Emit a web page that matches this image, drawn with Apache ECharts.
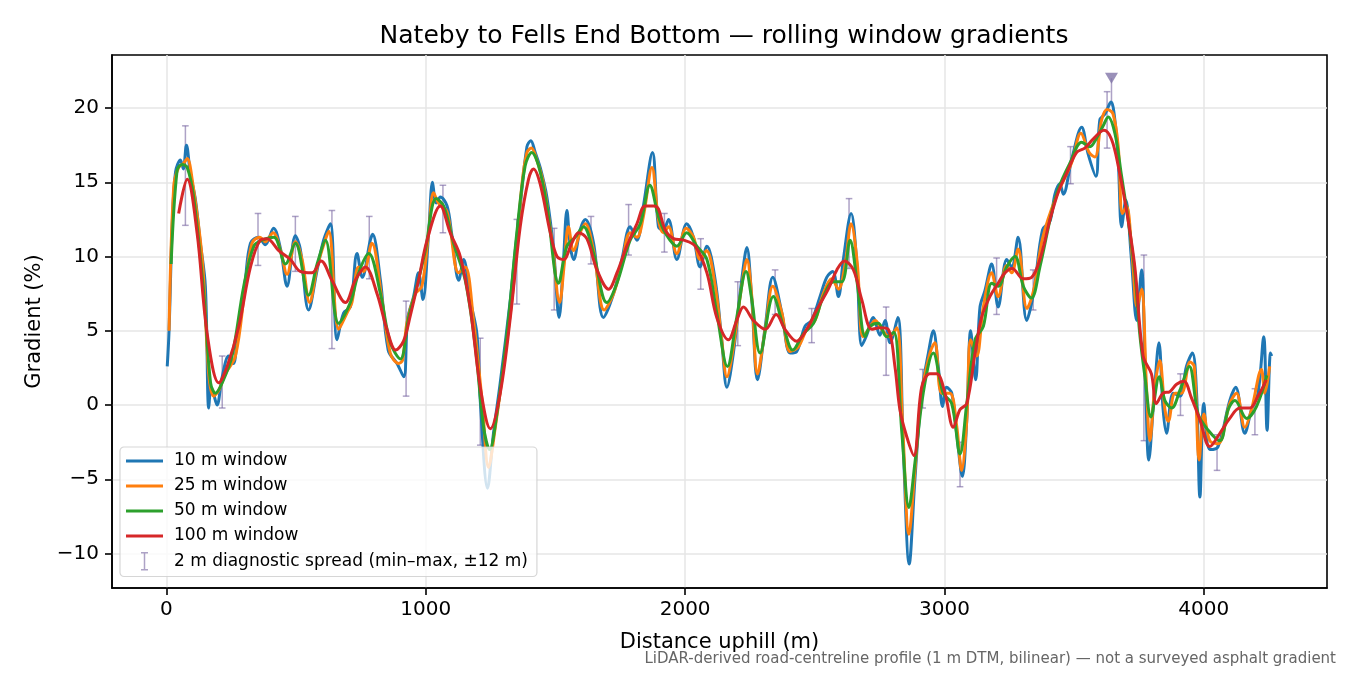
<!DOCTYPE html>
<html>
<head>
<meta charset="utf-8">
<title>Nateby to Fells End Bottom</title>
<script src="https://cdn.jsdelivr.net/npm/echarts@6/dist/echarts.min.js"></script>
<style>
  html, body { margin: 0; padding: 0; background: #fff; }
  #chart { width: 1350px; height: 675px; }
</style>
</head>
<body>
<div id="chart"></div>
<script>
// distances (m) and gradients (%), one pair of arrays per window
const dist10 = [3, 10, 22, 35, 54, 65, 77, 92, 112, 130, 150, 163, 172, 181, 195, 215, 240, 258, 270, 304, 324, 355, 381, 413, 440, 465, 497, 516, 548, 581, 606, 632, 658, 683, 709, 735, 755, 786, 795, 825, 855, 889, 915, 930, 953, 972, 989, 1011, 1026, 1040, 1056, 1082, 1100, 1127, 1146, 1171, 1197, 1210, 1238, 1261, 1287, 1326, 1345, 1364, 1390, 1405, 1422, 1441, 1467, 1493, 1514, 1531, 1544, 1557, 1570, 1595, 1615, 1647, 1685, 1724, 1756, 1788, 1814, 1839, 1874, 1897, 1916, 1936, 1968, 2006, 2032, 2058, 2084, 2116, 2141, 2161, 2186, 2218, 2238, 2257, 2279, 2309, 2338, 2373, 2405, 2430, 2462, 2488, 2520, 2546, 2569, 2591, 2610, 2640, 2662, 2681, 2700, 2726, 2751, 2771, 2790, 2820, 2841, 2864, 2886, 2912, 2938, 2957, 2976, 2993, 3008, 3028, 3047, 3069, 3086, 3101, 3120, 3137, 3156, 3182, 3207, 3240, 3259, 3284, 3317, 3345, 3378, 3407, 3426, 3445, 3458, 3490, 3529, 3554, 3584, 3599, 3619, 3642, 3657, 3670, 3683, 3699, 3721, 3741, 3760, 3773, 3788, 3809, 3827, 3843, 3856, 3882, 3908, 3933, 3956, 3972, 3985, 4000, 4023, 4055, 4100, 4123, 4158, 4184, 4209, 4231, 4244, 4257, 4262];
const grad10 = [2.6, 5.0, 12.0, 15.7, 16.5, 15.9, 17.5, 15.6, 13.8, 11.0, 8.0, -0.2, 1.2, 0.8, 0.0, 1.9, 3.3, 2.8, 3.9, 8.4, 10.9, 11.3, 10.8, 11.9, 10.5, 8.0, 11.4, 10.5, 6.4, 9.1, 11.1, 12.2, 4.4, 6.2, 6.6, 10.2, 8.6, 11.1, 11.5, 8.4, 3.7, 2.8, 1.9, 5.8, 7.3, 8.9, 7.1, 11.6, 15.0, 13.6, 14.0, 13.4, 11.5, 8.4, 9.8, 7.1, 4.8, 0.3, -5.6, -1.9, 1.5, 7.1, 10.4, 13.4, 17.4, 17.8, 17.0, 16.0, 14.0, 10.4, 5.9, 9.8, 13.1, 10.7, 9.8, 11.8, 12.5, 10.9, 5.9, 7.5, 9.8, 12.0, 11.1, 13.4, 17.0, 12.0, 11.8, 12.5, 9.8, 12.2, 11.3, 9.3, 10.7, 8.4, 4.4, 1.2, 3.5, 8.4, 10.6, 7.1, 1.7, 5.3, 8.6, 6.2, 3.5, 3.6, 5.3, 5.7, 7.3, 8.6, 9.0, 7.3, 9.8, 12.9, 9.5, 4.0, 4.7, 5.9, 4.7, 5.7, 4.2, 5.9, -2.8, -10.7, -5.0, 0.8, 3.5, 5.0, 2.6, -0.1, 1.2, 0.8, -1.9, -4.8, -1.0, 5.0, 1.7, 6.6, 7.7, 9.5, 6.6, 9.8, 9.3, 11.3, 5.7, 7.7, 11.8, 12.4, 14.2, 14.9, 14.2, 16.5, 18.7, 16.9, 15.4, 19.2, 19.6, 20.4, 19.2, 16.5, 12.0, 13.8, 9.8, 5.7, 9.1, 3.0, -3.7, 0.8, 4.2, -0.3, -1.9, 0.8, 0.6, 2.6, 3.5, 0.8, -6.2, 0.1, -3.0, -2.8, 0.3, 1.2, -1.9, -0.3, 0.8, 4.6, -1.7, 3.5, 3.3];

const dist25 = [10, 28, 47, 67, 80, 99, 138, 163, 182, 202, 227, 266, 304, 330, 360, 381, 411, 440, 465, 497, 523, 552, 581, 610, 626, 664, 696, 715, 741, 760, 792, 831, 863, 895, 910, 927, 960, 985, 1011, 1030, 1049, 1082, 1127, 1152, 1184, 1217, 1242, 1268, 1300, 1339, 1371, 1390, 1407, 1428, 1454, 1486, 1516, 1534, 1550, 1570, 1595, 1615, 1647, 1688, 1724, 1756, 1788, 1814, 1839, 1872, 1897, 1916, 1936, 1968, 2004, 2032, 2058, 2082, 2116, 2141, 2161, 2186, 2218, 2238, 2257, 2279, 2309, 2338, 2373, 2405, 2436, 2469, 2501, 2533, 2565, 2591, 2617, 2640, 2664, 2685, 2707, 2733, 2758, 2788, 2816, 2839, 2863, 2886, 2912, 2944, 2963, 2989, 3021, 3047, 3066, 3086, 3101, 3124, 3150, 3182, 3207, 3240, 3259, 3284, 3318, 3345, 3378, 3430, 3490, 3526, 3558, 3580, 3606, 3627, 3650, 3670, 3686, 3702, 3724, 3743, 3760, 3779, 3792, 3811, 3830, 3850, 3863, 3889, 3914, 3947, 3963, 3982, 4000, 4023, 4055, 4100, 4126, 4158, 4184, 4222, 4235, 4254];
const grad25 = [5.0, 14.7, 16.0, 16.3, 16.6, 15.2, 9.8, 2.1, 0.6, 1.0, 2.1, 3.3, 8.0, 10.9, 11.3, 11.0, 11.6, 10.4, 8.8, 11.0, 9.8, 6.9, 9.3, 11.0, 11.7, 5.1, 6.2, 6.9, 9.3, 9.0, 10.9, 7.1, 3.5, 2.8, 3.0, 5.5, 7.5, 8.0, 11.6, 14.3, 13.6, 13.0, 8.9, 9.3, 5.7, 0.3, -4.2, -1.5, 2.6, 8.2, 14.9, 17.0, 17.3, 16.5, 14.9, 11.1, 6.9, 9.5, 12.0, 10.4, 11.6, 12.2, 10.4, 6.4, 7.5, 9.5, 11.6, 11.3, 12.7, 16.0, 12.5, 11.6, 12.0, 10.2, 11.9, 11.3, 9.8, 10.4, 8.0, 4.4, 1.9, 3.9, 8.0, 9.8, 7.3, 2.1, 5.1, 8.0, 6.2, 3.6, 3.9, 5.1, 5.7, 7.5, 8.5, 7.8, 9.5, 12.2, 9.5, 4.6, 5.1, 5.7, 5.1, 4.6, 5.2, -1.5, -8.7, -4.4, 0.8, 3.5, 4.2, 0.8, 0.8, -1.4, -4.4, -1.0, 4.4, 3.3, 6.6, 8.9, 7.3, 9.4, 8.9, 10.5, 6.5, 7.8, 11.2, 14.0, 16.3, 18.3, 17.0, 16.7, 19.2, 19.9, 19.6, 17.4, 12.9, 13.4, 10.0, 6.6, 7.8, 1.2, -2.4, 1.2, 3.0, -0.3, -1.1, 0.8, 0.8, 2.9, 2.6, -3.7, -0.6, -2.4, -2.6, 0.1, 0.8, -1.5, -0.3, 2.4, 0.8, 2.6];

const dist50 = [18, 41, 60, 80, 105, 144, 170, 189, 215, 253, 298, 337, 369, 414, 459, 497, 548, 581, 613, 664, 709, 741, 780, 825, 863, 902, 934, 966, 998, 1040, 1069, 1107, 1152, 1191, 1223, 1246, 1274, 1313, 1351, 1383, 1409, 1435, 1467, 1512, 1544, 1576, 1608, 1647, 1698, 1737, 1788, 1827, 1864, 1897, 1923, 1968, 2006, 2045, 2084, 2122, 2163, 2199, 2235, 2257, 2289, 2340, 2379, 2415, 2456, 2495, 2533, 2572, 2604, 2636, 2662, 2694, 2713, 2745, 2777, 2805, 2835, 2863, 2886, 2918, 2957, 2995, 3028, 3060, 3086, 3118, 3150, 3182, 3207, 3240, 3272, 3304, 3335, 3368, 3410, 3440, 3484, 3529, 3561, 3584, 3612, 3631, 3657, 3683, 3708, 3734, 3753, 3773, 3796, 3828, 3850, 3876, 3908, 3944, 3978, 4017, 4062, 4094, 4120, 4165, 4203, 4243];
const grad50 = [9.5, 15.8, 16.2, 16.0, 14.0, 7.5, 1.5, 0.8, 1.5, 3.3, 8.0, 10.7, 11.1, 11.3, 9.5, 10.9, 7.4, 9.5, 11.1, 5.5, 6.9, 8.9, 10.2, 7.5, 4.2, 3.1, 5.9, 8.0, 10.4, 13.9, 13.4, 10.9, 8.4, 3.9, -1.5, -3.0, -0.6, 4.8, 11.6, 16.1, 17.0, 16.1, 13.4, 8.2, 10.7, 11.3, 12.0, 10.2, 6.9, 8.2, 11.1, 12.2, 14.8, 12.7, 11.6, 10.7, 11.6, 10.7, 9.8, 6.2, 2.6, 5.9, 9.0, 7.1, 3.5, 7.3, 5.3, 3.7, 4.8, 5.5, 7.3, 8.3, 8.3, 11.1, 8.4, 4.6, 5.3, 5.5, 4.6, 4.9, -1.7, -6.9, -3.9, 0.8, 3.5, 0.8, 0.1, -3.3, 0.1, 4.4, 5.3, 8.2, 8.0, 9.3, 10.0, 8.0, 7.2, 9.3, 12.7, 14.6, 16.3, 17.7, 17.4, 17.9, 18.8, 19.4, 18.3, 15.4, 12.5, 8.9, 4.8, 1.9, -0.8, 1.9, 0.3, -0.2, 1.0, 2.6, -0.6, -1.7, -2.4, -0.3, 0.3, -0.9, -0.1, 2.0];

const dist100 = [47, 80, 118, 157, 202, 234, 279, 324, 362, 388, 433, 478, 516, 561, 596, 638, 690, 728, 767, 812, 850, 884, 914, 940, 972, 1005, 1056, 1094, 1133, 1171, 1210, 1249, 1287, 1326, 1364, 1396, 1415, 1441, 1480, 1506, 1531, 1563, 1589, 1621, 1660, 1705, 1737, 1775, 1814, 1846, 1880, 1897, 1923, 1955, 1994, 2039, 2084, 2122, 2167, 2199, 2225, 2263, 2309, 2351, 2385, 2430, 2469, 2507, 2552, 2585, 2614, 2649, 2681, 2720, 2751, 2783, 2809, 2828, 2854, 2882, 2912, 2944, 2970, 3002, 3034, 3060, 3086, 3118, 3143, 3175, 3207, 3233, 3261, 3304, 3336, 3368, 3407, 3440, 3471, 3509, 3541, 3573, 3615, 3644, 3670, 3702, 3734, 3766, 3798, 3817, 3843, 3869, 3895, 3923, 3952, 3985, 4023, 4062, 4100, 4139, 4177, 4209, 4241];
const grad100 = [12.9, 15.2, 11.6, 4.8, 1.5, 2.6, 5.3, 9.3, 11.1, 11.2, 10.4, 9.8, 9.0, 8.9, 9.7, 8.4, 6.9, 8.4, 9.3, 7.5, 5.1, 3.7, 4.3, 6.0, 8.4, 11.1, 13.4, 11.6, 10.0, 6.6, 1.2, -1.6, 0.8, 5.9, 12.0, 15.2, 15.9, 14.9, 11.6, 10.0, 9.8, 10.9, 11.6, 11.2, 9.1, 7.8, 8.9, 10.7, 12.2, 13.4, 13.4, 13.2, 11.8, 11.2, 11.1, 10.7, 8.9, 5.9, 4.4, 5.7, 6.6, 5.7, 5.1, 6.1, 5.1, 4.3, 5.1, 6.4, 7.8, 9.1, 9.7, 9.1, 7.1, 5.1, 5.2, 5.1, 2.6, -0.3, -2.1, -3.4, 1.2, 2.1, 2.1, 0.8, -1.5, -0.3, 0.1, 3.5, 5.9, 7.3, 8.2, 8.9, 9.2, 8.5, 8.6, 9.8, 12.5, 14.4, 15.6, 17.0, 17.3, 17.9, 18.5, 17.9, 16.1, 13.1, 9.3, 3.3, 2.1, 0.1, 0.8, 0.9, 1.4, 1.6, 0.5, -1.0, -2.8, -1.9, -0.9, -0.2, -0.2, 0.6, 1.7];

// 2 m diagnostic spread (min–max over ±12 m)
const spreadDist = [73, 215, 353, 497, 638, 782, 924, 1066, 1210, 1351, 1495, 1637, 1782, 1920, 2060, 2203, 2347, 2488, 2632, 2775, 2916, 3060, 3201, 3342, 3486, 3627, 3769, 3910, 4051, 4197];
const spreadMin = [12.1, -0.2, 9.4, 9.0, 3.8, 8.5, 0.6, 11.6, -2.7, 6.8, 6.4, 9.5, 10.1, 10.3, 7.8, 4.0, 6.1, 4.2, 9.2, 2.0, -0.2, -5.5, 6.1, 6.4, 14.9, 17.3, -2.4, -0.7, -4.4, -2.0];
const spreadMax = [18.8, 3.3, 12.9, 12.7, 13.1, 12.7, 7.0, 14.8, 4.5, 12.5, 11.9, 12.7, 13.5, 12.9, 11.2, 8.3, 9.1, 6.5, 13.9, 6.6, 2.4, -2.5, 9.9, 9.1, 17.4, 21.1, 10.1, 2.1, -2.0, 1.1];

// steepest 2 m reading, flagged with a triangle
const peakDist = [3644];
const peakGrad = [22.0];
const peakStemLow = [20.1];

const xTicks = [0, 1000, 2000, 3000, 4000];
const yTicks = [-10, -5, 0, 5, 10, 15, 20];

const FONT = 'DejaVu Sans';
const SPREAD_COLOR = 'rgba(118,100,160,0.6)';
const PEAK_COLOR = '#8174a8';
const SPREAD_NAME = '2 m diagnostic spread (min\u2013max, \u00b112 m)';
// flat bar used as the legend swatch for the line series
const LINE_ICON = 'path://M0,0H37V3H0Z';

const pairs = (xs, ys) => xs.map((x, i) => [x, ys[i]]);
const minus = v => String(v).replace('-', '\u2212');

const chart = echarts.init(document.getElementById('chart'), null, { renderer: 'canvas' });

const lines = [
    ['10 m window', dist10, grad10, '#1f77b4'],
    ['25 m window', dist25, grad25, '#ff7f0e'],
    ['50 m window', dist50, grad50, '#2ca02c'],
    ['100 m window', dist100, grad100, '#d62728']
];

const lineSeries = ([name, xs, ys, color]) => ({
    name,
    type: 'line',
    data: pairs(xs, ys),
    symbol: 'none',
    smooth: 0.35,
    lineStyle: { color, width: 3 },
    itemStyle: { color },
    z: 3
});

const option = {
    animation: false,
    textStyle: { fontFamily: FONT },
    title: {
        text: 'Nateby to Fells End Bottom \u2014 rolling window gradients',
        left: 719,
        top: 19,
        textAlign: 'center',
        textStyle: { fontFamily: FONT, fontSize: 25, fontWeight: 'normal', color: '#000' }
    },
    grid: {
        left: 112, right: 23, top: 55, bottom: 87,
        show: true, borderColor: '#000', borderWidth: 1.6, backgroundColor: 'transparent'
    },
    legend: {
        orient: 'vertical',
        left: 120,
        top: 447,
        padding: [5, 9, 6, 6],
        itemWidth: 37,
        itemHeight: 17,
        itemGap: 7,
        backgroundColor: 'rgba(255,255,255,0.8)',
        borderColor: 'rgba(204,204,204,0.8)',
        borderWidth: 1.2,
        borderRadius: 4,
        textStyle: { fontFamily: FONT, fontSize: 17, color: '#000', lineHeight: 18, padding: [0, 0, 0, 6] },
        data: lines.map(([name, , , color]) => ({ name, icon: LINE_ICON, itemStyle: { color } })).concat([{
            name: SPREAD_NAME,
            icon: 'path://M0,0H7M3.5,0V17M0,17H7',
            itemStyle: { color: 'transparent', borderColor: SPREAD_COLOR, borderWidth: 1.5 }
        }])
    },
    xAxis: {
        type: 'value',
        min: -210,
        max: 4475,
        name: 'Distance uphill (m)',
        nameLocation: 'middle',
        nameGap: 44,
        nameTextStyle: { fontFamily: FONT, fontSize: 21, color: '#000' },
        axisLine: { show: true, onZero: false, lineStyle: { color: '#000', width: 1.6 } },
        axisTick: { show: true, inside: false, length: 7, customValues: xTicks, lineStyle: { color: '#000', width: 1.6 } },
        axisLabel: { customValues: xTicks, margin: 12, fontFamily: FONT, fontSize: 20, color: '#000', formatter: v => String(v) },
        splitLine: { show: true, lineStyle: { color: '#e6e6e6', width: 1.5 } }
    },
    yAxis: {
        type: 'value',
        min: -12.32,
        max: 23.57,
        name: 'Gradient (%)',
        nameLocation: 'middle',
        nameRotate: 90,
        nameGap: 67,
        nameTextStyle: { fontFamily: FONT, fontSize: 21, color: '#000' },
        axisLine: { show: true, onZero: false, lineStyle: { color: '#000', width: 1.6 } },
        axisTick: { show: true, inside: false, length: 7, customValues: yTicks, lineStyle: { color: '#000', width: 1.6 } },
        axisLabel: { customValues: yTicks, margin: 13, fontFamily: FONT, fontSize: 20, color: '#000', formatter: minus },
        splitLine: { show: true, lineStyle: { color: '#e6e6e6', width: 1.5 } }
    },
    series: [
        {
            name: SPREAD_NAME,
            type: 'custom',
            data: spreadDist.map((d, i) => [d, spreadMin[i], spreadMax[i]]),
            encode: { x: 0, y: [1, 2] },
            itemStyle: { color: SPREAD_COLOR },
            z: 2,
            renderItem: (params, api) => {
                const lo = api.coord([api.value(0), api.value(1)]);
                const hi = api.coord([api.value(0), api.value(2)]);
                const cap = 3.3;
                const style = { stroke: SPREAD_COLOR, lineWidth: 1.5, fill: null };
                return {
                    type: 'group',
                    children: [
                        { type: 'line', shape: { x1: lo[0], y1: lo[1], x2: hi[0], y2: hi[1] }, style },
                        { type: 'line', shape: { x1: lo[0] - cap, y1: lo[1], x2: lo[0] + cap, y2: lo[1] }, style },
                        { type: 'line', shape: { x1: hi[0] - cap, y1: hi[1], x2: hi[0] + cap, y2: hi[1] }, style }
                    ]
                };
            }
        },
        ...lines.map(lineSeries),
        {
            name: 'peak stem',
            type: 'line',
            data: [[peakDist[0], peakStemLow[0]], [peakDist[0], peakGrad[0]]],
            symbol: 'none',
            lineStyle: { color: SPREAD_COLOR, width: 1.5 },
            z: 2
        },
        {
            name: 'peak',
            type: 'scatter',
            data: pairs(peakDist, peakGrad),
            symbol: 'triangle',
            symbolRotate: 180,
            symbolSize: [13, 11],
            itemStyle: { color: PEAK_COLOR },
            z: 4
        }
    ],
    graphic: [
        {
            type: 'text',
            right: 14,
            bottom: 8,
            style: {
                text: 'LiDAR-derived road-centreline profile (1 m DTM, bilinear) \u2014 not a surveyed asphalt gradient',
                font: '15px "DejaVu Sans"',
                fill: '#666'
            }
        }
    ]
};

chart.setOption(option);
</script>
</body>
</html>
